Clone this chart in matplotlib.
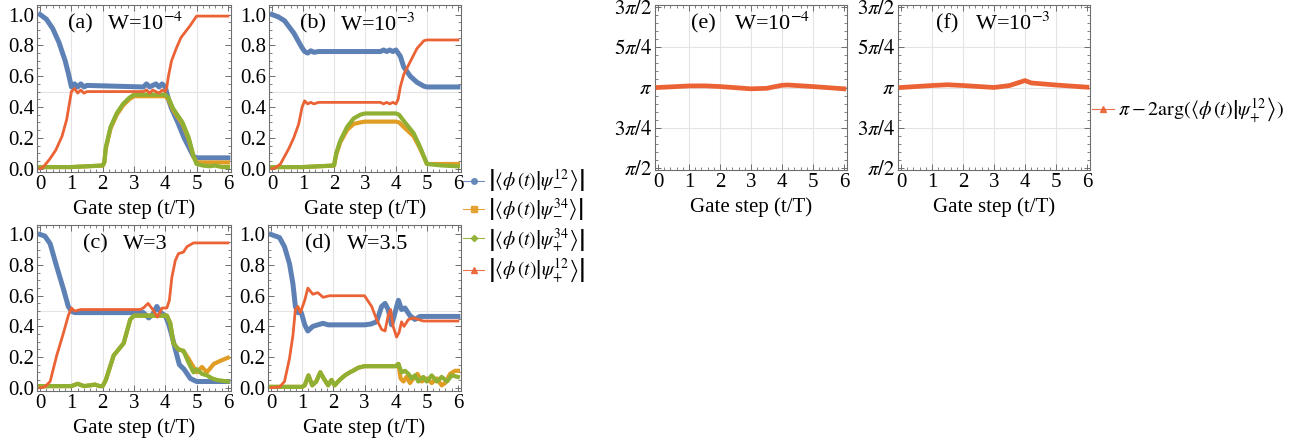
import matplotlib
matplotlib.use("Agg")
import matplotlib.pyplot as plt
from matplotlib.lines import Line2D
from matplotlib.ticker import MultipleLocator, FixedLocator, FormatStrFormatter
import numpy as np

plt.rcParams['font.family'] = ['Liberation Serif', 'DejaVu Serif']
plt.rcParams['mathtext.fontset'] = 'stix'

BLUE = '#5E81B5'
ORANGE = '#E19C24'
GREEN = '#8FB032'
RED = '#EB6235'
FRAME = '#6E6E6E'
GRIDC = '#E4E4E4'

# ---------------- overlaps, W = 1e-4 ----------------
a_m12_t = [0, 0.2, 0.4, 0.6, 0.8, 0.9, 1.0, 1.1, 1.2, 1.3, 1.4, 1.5, 3.3, 3.4, 3.5, 3.6,
           3.7, 3.8, 3.9, 4.0, 4.1, 4.2, 4.4, 4.6, 4.8, 4.9, 5.0, 6.0]
a_m12 = [1.0, 0.97, 0.91, 0.82, 0.70, 0.62, 0.53, 0.55, 0.53, 0.55, 0.53, 0.54, 0.53, 0.55,
         0.53, 0.54, 0.55, 0.53, 0.55, 0.53, 0.45, 0.39, 0.30, 0.20, 0.12, 0.08, 0.07, 0.07]
a_m34_t = [0, 1.0, 1.5, 2.0, 2.05, 2.1, 2.25, 2.45, 2.65, 2.85, 3.0, 4.0, 4.1, 4.25, 4.55,
           4.75, 4.9, 5.0, 6.0]
a_m34 = [0.01, 0.01, 0.015, 0.02, 0.04, 0.13, 0.26, 0.35, 0.41, 0.45, 0.47, 0.47, 0.45,
         0.38, 0.29, 0.19, 0.08, 0.04, 0.04]
a_p34_t = [0, 1.0, 1.5, 2.0, 2.05, 2.1, 2.25, 2.45, 2.65, 2.85, 3.0, 4.0, 4.1, 4.25, 4.55,
           4.75, 4.9, 5.0, 5.2, 5.4, 5.6, 5.8, 6.0]
a_p34 = [0.01, 0.01, 0.015, 0.02, 0.04, 0.14, 0.27, 0.36, 0.42, 0.46, 0.48, 0.48, 0.46,
         0.39, 0.30, 0.20, 0.08, 0.03, 0.02, 0.015, 0.02, 0.01, 0.01]
a_p12_t = [0, 0.1, 0.3, 0.5, 0.7, 0.85, 1.0, 1.1, 1.2, 1.3, 1.4, 1.5, 3.3, 3.4, 3.5, 3.6,
           3.7, 3.8, 3.9, 4.0, 4.05, 4.1, 4.2, 4.35, 4.5, 4.8, 5.0, 6.0]
a_p12 = [0.0, 0.01, 0.06, 0.12, 0.21, 0.32, 0.50, 0.52, 0.49, 0.51, 0.49, 0.50, 0.50, 0.51,
         0.49, 0.51, 0.50, 0.49, 0.51, 0.50, 0.53, 0.60, 0.70, 0.78, 0.85, 0.93, 0.99, 0.99]

# ---------------- overlaps, W = 1e-3 ----------------
b_m12_t = [0, 0.2, 0.4, 0.7, 0.95, 1.05, 1.15, 1.25, 1.35, 1.5, 3.5, 3.6, 3.7, 3.8, 3.9,
           4.0, 4.14, 4.25, 4.46, 4.68, 4.9, 5.0, 6.0]
b_m12 = [1.0, 0.985, 0.96, 0.88, 0.79, 0.76, 0.75, 0.765, 0.755, 0.76, 0.76, 0.77, 0.76,
         0.77, 0.76, 0.77, 0.73, 0.66, 0.60, 0.56, 0.535, 0.53, 0.53]
b_m34_t = [0, 1.0, 1.5, 2.0, 2.07, 2.2, 2.42, 2.63, 2.85, 3.0, 4.0, 4.1, 4.25, 4.57, 4.78,
           5.0, 6.0]
b_m34 = [0.01, 0.01, 0.015, 0.02, 0.09, 0.17, 0.25, 0.29, 0.30, 0.305, 0.305, 0.30, 0.27,
         0.21, 0.13, 0.03, 0.03]
b_p34_t = [0, 1.0, 1.5, 2.0, 2.07, 2.2, 2.42, 2.63, 2.85, 3.0, 4.0, 4.1, 4.25, 4.57, 4.78,
           5.0, 5.5, 6.0]
b_p34 = [0.01, 0.01, 0.015, 0.02, 0.10, 0.18, 0.27, 0.325, 0.35, 0.358, 0.358, 0.35, 0.31,
         0.23, 0.14, 0.03, 0.02, 0.015]
b_p12_t = [0, 0.1, 0.27, 0.54, 0.7, 0.86, 0.97, 1.05, 1.15, 1.25, 1.35, 1.5, 3.5, 3.6,
           3.7, 3.8, 3.9, 4.0, 4.07, 4.14, 4.25, 4.45, 4.68, 4.9, 5.0, 6.0]
b_p12 = [0.0, 0.005, 0.03, 0.13, 0.20, 0.29, 0.40, 0.44, 0.42, 0.43, 0.42, 0.43, 0.43,
         0.42, 0.43, 0.42, 0.43, 0.42, 0.45, 0.53, 0.61, 0.69, 0.78, 0.83, 0.835, 0.835]

# ---------------- overlaps, W = 3 ----------------
c_m12_t = [0, 0.15, 0.32, 0.53, 0.75, 0.9, 1.0, 1.1, 3.3, 3.4, 3.47, 3.6, 3.73, 3.85,
           4.0, 4.1, 4.21, 4.32, 4.45, 4.6, 4.8, 5.0, 6.0]
c_m12 = [1.0, 0.99, 0.94, 0.79, 0.64, 0.53, 0.50, 0.49, 0.49, 0.47, 0.455, 0.48, 0.53,
         0.49, 0.47, 0.42, 0.34, 0.25, 0.15, 0.12, 0.06, 0.04, 0.04]
c_m34_t = [0, 1.0, 1.2, 1.4, 1.6, 1.75, 1.9, 2.0, 2.1, 2.35, 2.67, 2.88, 3.0, 4.05, 4.16,
           4.26, 4.42, 4.58, 4.74, 4.9, 5.0, 5.17, 5.33, 5.55, 5.76, 6.0]
c_m34 = [0.01, 0.01, 0.025, 0.01, 0.015, 0.02, 0.01, 0.01, 0.05, 0.21, 0.29, 0.445, 0.47,
         0.47, 0.42, 0.29, 0.25, 0.24, 0.19, 0.135, 0.10, 0.135, 0.10, 0.155, 0.175, 0.195]
c_p34_t = [0, 1.0, 1.2, 1.4, 1.6, 1.75, 1.9, 2.0, 2.1, 2.35, 2.67, 2.88, 3.0, 4.05, 4.16,
           4.26, 4.42, 4.58, 4.74, 4.9, 5.0, 5.17, 5.33, 5.5, 5.65, 6.0]
c_p34 = [0.01, 0.01, 0.025, 0.01, 0.015, 0.02, 0.01, 0.01, 0.05, 0.21, 0.29, 0.445, 0.47,
         0.47, 0.42, 0.29, 0.25, 0.24, 0.165, 0.10, 0.12, 0.09, 0.08, 0.06, 0.05, 0.04]
c_p12_t = [0, 0.15, 0.32, 0.53, 0.75, 0.9, 1.0, 1.1, 1.3, 3.2, 3.3, 3.45, 3.6, 3.75, 3.9,
           4.05, 4.13, 4.21, 4.32, 4.42, 4.58, 4.69, 4.9, 6.0]
c_p12 = [0.0, 0.005, 0.04, 0.21, 0.36, 0.47, 0.52, 0.50, 0.51, 0.51, 0.52, 0.55, 0.51,
         0.46, 0.52, 0.52, 0.57, 0.72, 0.83, 0.875, 0.885, 0.92, 0.945, 0.945]

# ---------------- overlaps, W = 3.5 ----------------
d_m12_t = [0, 0.27, 0.43, 0.59, 0.7, 0.78, 0.86, 0.97, 1.08, 1.18, 1.34, 1.5, 1.67, 1.83,
           3.0, 3.2, 3.39, 3.55, 3.66, 3.76, 3.87, 3.98, 4.09, 4.19, 4.3, 4.46, 4.62, 4.78,
           6.0]
d_m12 = [1.0, 0.98, 0.92, 0.81, 0.68, 0.53, 0.49, 0.49, 0.41, 0.37, 0.40, 0.41, 0.42, 0.41,
         0.41, 0.415, 0.43, 0.53, 0.55, 0.51, 0.41, 0.49, 0.57, 0.51, 0.52, 0.47, 0.445,
         0.465, 0.465]
d_m34_t = [0, 1.0, 1.08, 1.2, 1.32, 1.45, 1.58, 1.69, 1.83, 1.94, 2.04, 2.2, 2.37, 2.53,
           2.63, 2.8, 3.0, 4.0, 4.09, 4.16, 4.25, 4.35, 4.46, 4.57, 4.7, 4.84, 5.0, 5.16,
           5.32, 5.48, 5.59, 5.75, 5.91, 6.0]
d_m34 = [0.005, 0.005, 0.015, 0.08, 0.015, 0.04, 0.10, 0.06, 0.015, 0.05, 0.015, 0.05, 0.08,
         0.10, 0.11, 0.13, 0.14, 0.14, 0.155, 0.06, 0.04, 0.07, 0.03, 0.06, 0.09, 0.04, 0.06,
         0.03, 0.06, 0.015, 0.03, 0.09, 0.11, 0.11]
d_p34_t = [0, 1.0, 1.08, 1.2, 1.32, 1.45, 1.58, 1.69, 1.83, 1.94, 2.04, 2.2, 2.37, 2.53,
           2.63, 2.8, 3.0, 4.0, 4.09, 4.19, 4.3, 4.41, 4.52, 4.62, 4.73, 4.89, 5.0, 5.16,
           5.32, 5.48, 5.65, 5.8, 6.0]
d_p34 = [0.005, 0.005, 0.015, 0.08, 0.015, 0.04, 0.10, 0.06, 0.015, 0.05, 0.015, 0.05, 0.08,
         0.10, 0.11, 0.13, 0.14, 0.14, 0.155, 0.10, 0.11, 0.09, 0.06, 0.08, 0.04, 0.07, 0.04,
         0.08, 0.04, 0.07, 0.04, 0.08, 0.07]
d_p12_t = [0, 0.27, 0.43, 0.59, 0.7, 0.78, 0.86, 0.94, 1.08, 1.18, 1.34, 1.5, 1.67, 1.88,
           3.0, 3.23, 3.39, 3.55, 3.66, 3.76, 3.84, 3.92, 4.03, 4.11, 4.19, 4.27, 4.41, 4.57,
           4.73, 4.89, 6.0]
d_p12 = [0.0, 0.004, 0.04, 0.19, 0.34, 0.51, 0.53, 0.49, 0.57, 0.65, 0.61, 0.62, 0.59, 0.60,
         0.60, 0.53, 0.445, 0.38, 0.37, 0.47, 0.51, 0.40, 0.33, 0.36, 0.43, 0.40, 0.445,
         0.455, 0.445, 0.435, 0.435]

# ---------------- relative phase ----------------
e_t = [0, 1.0, 1.5, 2.0, 3.0, 3.5, 4.0, 4.2, 5.0, 6.0]
e_phase = [3.142, 3.172, 3.174, 3.160, 3.116, 3.125, 3.185, 3.190, 3.160, 3.116]
f_t = [0, 1.0, 1.5, 2.0, 3.0, 3.5, 4.0, 4.2, 5.0, 6.0]
f_phase = [3.142, 3.180, 3.195, 3.180, 3.142, 3.180, 3.276, 3.230, 3.190, 3.148]

W, H = 1311, 443
fig = plt.figure(figsize=(W / 100, H / 100), dpi=100)


def rect(left, right, top, bottom):
    return [left / W, 1 - bottom / H, (right - left) / W, (bottom - top) / H]


def frame(ax):
    for s in ax.spines.values():
        s.set_color(FRAME)
        s.set_linewidth(0.8)
    ax.tick_params(which='both', direction='in', top=True, right=True, color=FRAME,
                   labelsize=15, pad=2)
    ax.tick_params(which='major', length=4, width=0.7)
    ax.tick_params(which='minor', length=2, width=0.6)
    ax.set_xlim(-0.1, 6.1)
    ax.xaxis.set_major_locator(MultipleLocator(1))
    ax.xaxis.set_minor_locator(MultipleLocator(0.2))
    for x in range(1, 6):
        ax.axvline(x, color=GRIDC, lw=0.8, zorder=0)
    ax.set_xlabel('Gate step (t/T)', fontsize=15, labelpad=4)


def tag(ax, letter, w, xl, xw, y=0.885):
    ax.text(xl, y, letter, transform=ax.transAxes, fontsize=16, va='center', ha='left')
    ax.text(xw, y, w, transform=ax.transAxes, fontsize=16, va='center', ha='left')


overlap_panels = [
    (rect(37, 231, 5, 172), (a_m12_t, a_m12), (a_m34_t, a_m34), (a_p34_t, a_p34),
     (a_p12_t, a_p12), '(a)', r'W=10$^{-4}$', 0.16, 0.36),
    (rect(269, 461, 5, 172), (b_m12_t, b_m12), (b_m34_t, b_m34), (b_p34_t, b_p34),
     (b_p12_t, b_p12), '(b)', r'W=10$^{-3}$', 0.16, 0.37),
    (rect(37, 231, 225, 391), (c_m12_t, c_m12), (c_m34_t, c_m34), (c_p34_t, c_p34),
     (c_p12_t, c_p12), '(c)', 'W=3', 0.237, 0.445),
    (rect(268, 461, 225, 391), (d_m12_t, d_m12), (d_m34_t, d_m34), (d_p34_t, d_p34),
     (d_p12_t, d_p12), '(d)', 'W=3.5', 0.19, 0.41),
]

for pos, m12, m34, p34, p12, letter, wtxt, xl, xw in overlap_panels:
    ax = fig.add_axes(pos)
    frame(ax)
    ax.set_ylim(-0.022, 1.062)
    ax.yaxis.set_major_locator(MultipleLocator(0.2))
    ax.yaxis.set_minor_locator(MultipleLocator(0.05))
    ax.yaxis.set_major_formatter(FormatStrFormatter('%.1f'))
    ax.axhline(0.5, color=GRIDC, lw=0.8, zorder=0)
    ax.plot(*m12, color=BLUE, lw=3.6, solid_joinstyle='round', zorder=2)
    ax.plot(*m34, color=ORANGE, lw=3.0, solid_joinstyle='round', zorder=3)
    ax.plot(*p34, color=GREEN, lw=3.0, solid_joinstyle='round', zorder=4)
    ax.plot(*p12, color=RED, lw=2.0, solid_joinstyle='round', zorder=5)
    tag(ax, letter, wtxt, xl, xw)

phase_ticks = [np.pi / 2, 3 * np.pi / 4, np.pi, 5 * np.pi / 4, 3 * np.pi / 2]
phase_labels = [r'$\pi/2$', r'$3\pi/4$', r'$\pi$', r'$5\pi/4$', r'$3\pi/2$']

phase_panels = [
    (rect(655, 847, 5, 170), e_t, e_phase, '(e)', r'W=10$^{-4}$', 0.19, 0.41),
    (rect(898, 1090, 5, 170), f_t, f_phase, '(f)', r'W=10$^{-3}$', 0.20, 0.40),
]

for pos, t, ph, letter, wtxt, xl, xw in phase_panels:
    ax = fig.add_axes(pos)
    frame(ax)
    ax.set_ylim(np.pi / 2 - 0.03, 3 * np.pi / 2 + 0.03)
    ax.yaxis.set_major_locator(FixedLocator(phase_ticks))
    ax.yaxis.set_minor_locator(MultipleLocator(np.pi / 20))
    ax.set_yticklabels(phase_labels)
    for yv in phase_ticks[1:-1]:
        ax.axhline(yv, color=GRIDC, lw=0.8, zorder=0)
    ax.plot(t, ph, color=RED, lw=3.4, solid_joinstyle='round', zorder=3)
    tag(ax, letter, wtxt, xl, xw)

# legend for the overlap panels
ov_handles = [
    Line2D([], [], color=BLUE, lw=0.8, alpha=0.9, marker='o', ms=4),
    Line2D([], [], color=ORANGE, lw=0.8, alpha=0.9, marker='s', ms=4),
    Line2D([], [], color=GREEN, lw=0.8, alpha=0.9, marker='D', ms=3.2),
    Line2D([], [], color=RED, lw=0.8, alpha=0.9, marker='^', ms=4),
]
ov_labels = [
    r'$\left|\left\langle\phi\,(t)\right|\left.\psi_{-}^{12}\right\rangle\right|$',
    r'$\left|\left\langle\phi\,(t)\right|\left.\psi_{-}^{34}\right\rangle\right|$',
    r'$\left|\left\langle\phi\,(t)\right|\left.\psi_{+}^{34}\right\rangle\right|$',
    r'$\left|\left\langle\phi\,(t)\right|\left.\psi_{+}^{12}\right\rangle\right|$',
]
fig.legend(ov_handles, ov_labels, loc='upper left', bbox_to_anchor=(463 / W, 1 - 168 / H),
           frameon=False, fontsize=14, handlelength=1.1, handletextpad=0.2,
           labelspacing=0.08, borderaxespad=0, borderpad=0)

ph_handle = [Line2D([], [], color=RED, lw=0.8, alpha=0.9, marker='^', ms=4)]
fig.legend(ph_handle,
           [r'$\pi-2\mathrm{arg}(\left\langle\phi\,(t)\right|\left.\psi_{+}^{12}\right\rangle)$'],
           loc='center left', bbox_to_anchor=(1092 / W, 1 - 110 / H), frameon=False,
           fontsize=14.5, handlelength=1.1, handletextpad=0.2, borderaxespad=0, borderpad=0)

fig.savefig('out.png', dpi=100)
